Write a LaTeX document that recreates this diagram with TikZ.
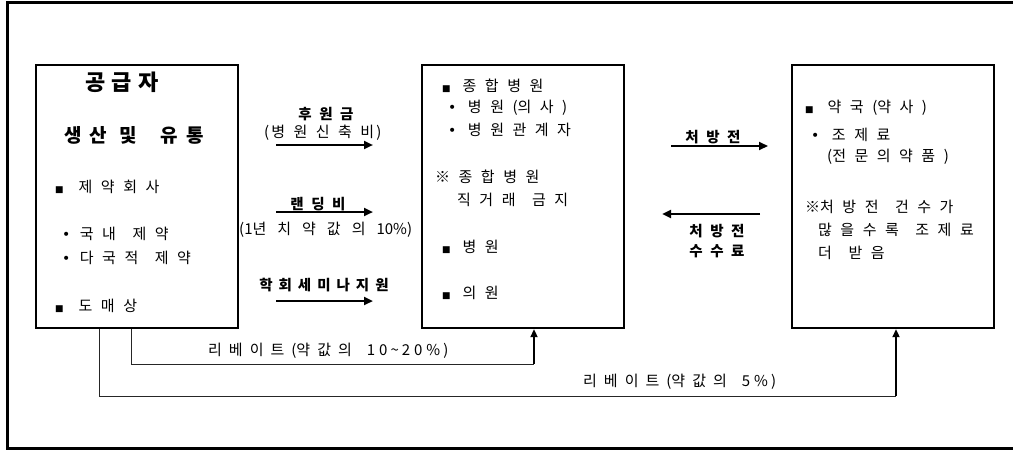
\documentclass[tikz,border=0pt]{standalone}
\usepackage{fontspec}
\usetikzlibrary{arrows.meta}
\setmainfont{Noto Sans CJK KR}
\newfontfamily\kr{Noto Sans CJK KR}
\newfontfamily\dv{DejaVu Sans}
\newcommand\sqb{{\dv\fontsize{9}{9}\selectfont ■}}
\newcommand\dotb{{\dv\fontsize{14}{14}\selectfont •}}
\newcommand\wg{\hspace{8pt}}
\begin{document}
\begin{tikzpicture}[x=1pt,y=-1pt,
 sp/.style={execute at begin node={\spaceskip=#1\relax}},
 box/.style={draw,line width=2.2pt,minimum width=202pt,minimum height=263pt,anchor=north west,inner sep=0pt},
 big/.style={line width=2.5pt,-{Triangle[length=9pt,width=8pt]}},
 up/.style={line width=2pt,-{Triangle[length=8pt,width=7pt]}},
 thinl/.style={line width=1pt,draw=black!85},
 txt/.style={anchor=west,inner sep=0pt,font=\kr\fontsize{15}{17}\selectfont,sp=8.5pt},
 reb/.style={anchor=west,inner sep=0pt,font=\kr\fontsize{15}{17}\selectfont,sp=7pt},
 lab/.style={anchor=center,inner sep=0pt,font=\kr\bfseries\fontsize{14.5}{16}\selectfont,sp=7.5pt},
]
\useasboundingbox (0,0) rectangle (1013,452);
\draw[line width=3pt] (1013,2.5) -- (7,2.5) -- (7,448) -- (1013,448);

% boxes
\node[box] (sup) at (35,64) {};
\node[box] (hosp) at (421,64) {};
\node[box] (phar) at (791,64) {};

% supplier texts
\node[anchor=center,inner sep=0pt,font=\kr\bfseries\fontsize{22}{24}\selectfont,sp=6.5pt] (t1) at (122,82) {공 급 자};
\node[anchor=center,inner sep=0pt,font=\kr\bfseries\fontsize{19}{21}\selectfont,sp=8pt] (t2) at (134,135) {생 산 \hspace{4pt}및 \hspace{16pt}유 통};
\node[txt] (t3) at (55,187) {\sqb\hspace{15pt}제 약 회 사};
\node[txt] (t4) at (62,234) {\dotb\hspace{9.5pt}국 내 \wg 제 약};
\node[txt] (t5) at (62,258) {\dotb\hspace{9.5pt}다 국 적 \wg 제 약};
\node[txt] (t6) at (55,306) {\sqb\hspace{15pt}도 매 상};

% supplier -> hospital arrows
\node[lab] (l1) at (326,114) {후 원 금};
\node[txt] (l1b) at (264,133) {(\kern2pt 병 원 신 축 비\kern2pt)};
\coordinate (a1s) at (276,145);
\coordinate (a1e) at (373,145);
\draw[big] (a1s) -- (a1e);

\node[lab] (l2) at (318,204) {랜 딩 비};
\node[reb,font=\kr\fontsize{15}{17}\selectfont,sp=11pt] (l2b) at (239,230) {(1년 치 약 값 의 10\%)};
\coordinate (a2s) at (276,212);
\coordinate (a2e) at (373,212);
\draw[big] (a2s) -- (a2e);

\node[lab,sp=6pt] (l3) at (324,285) {학 회 세 미 나 지 원};
\coordinate (a3s) at (276,301);
\coordinate (a3e) at (373,301);
\draw[big] (a3s) -- (a3e);

% hospital texts
\node[txt] (h1) at (442,86) {\sqb\hspace{12pt}종 합 병 원};
\node[txt] (h2) at (448,108) {\dotb\hspace{11.5pt}병 원 (의 사 )};
\node[txt] (h3) at (448,130) {\dotb\hspace{11.5pt}병 원 관 계 자};
\node[txt] (h4) at (435,177) {※ 종 합 병 원};
\node[txt] (h5) at (457,200) {직 거 래 \wg 금 지};
\node[txt] (h6) at (442,247) {\sqb\hspace{12pt}병 원};
\node[txt] (h7) at (442,293) {\sqb\hspace{12pt}의 원};

% hospital <-> pharmacy
\node[lab] (p1) at (713,137) {처 방 전};
\coordinate (b1s) at (671,146);
\coordinate (b1e) at (768,146);
\draw[big] (b1s) -- (b1e);
\coordinate (b2s) at (760,214);
\coordinate (b2e) at (662,214);
\draw[big] (b2s) -- (b2e);
\node[lab] (p2) at (717,231) {처 방 전};
\node[lab] (p3) at (717,251) {수 수 료};

% pharmacy texts
\node[txt] (r1) at (805,108) {\sqb\hspace{14pt}약 국 (약 사 )};
\node[txt] (r2) at (811,135) {\dotb\hspace{12.5pt}조 제 료};
\node[txt] (r3) at (827,157) {(전 문 의 약 품 )};
\node[txt] (r4) at (805,207) {※처 방 전 \wg 건 수 가};
\node[txt] (r5) at (818,230) {많 을 수 록 \wg 조 제 료};
\node[txt] (r6) at (818,253) {더 \wg 받 음};

% rebates
\coordinate (c1) at (534,364);
\coordinate (c2) at (896,396);
\draw[thinl] ([xshift=96pt]sup.south west) |- (c1);
\draw[up] (c1) -- (c1 |- hosp.south);
\draw[thinl] ([xshift=64pt]sup.south west) |- (c2);
\draw[up] (c2) -- (c2 |- phar.south);
\node[reb] (rb1) at (208,351) {리 베 이 트 (약 값 의 \wg 1\kern4pt 0\kern3pt\textasciitilde\kern3pt 2\kern4pt 0\kern4pt\%\kern3pt)};
\node[reb] (rb2) at (583,382) {리 베 이 트 (약 값 의 \wg 5\kern4pt\%\kern3pt)};
\end{tikzpicture}
\end{document}
